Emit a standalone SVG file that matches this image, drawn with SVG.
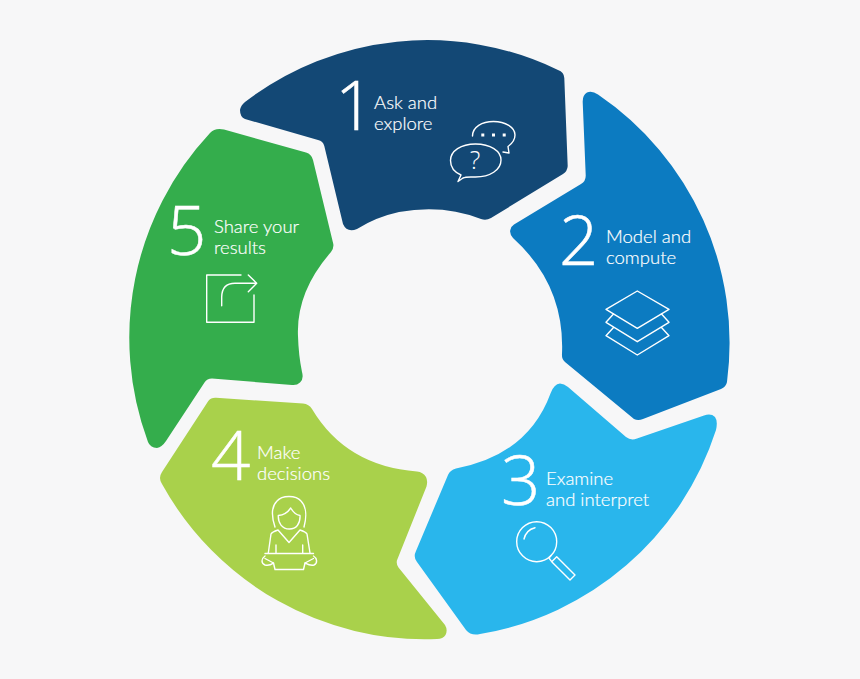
<svg xmlns="http://www.w3.org/2000/svg" width="860" height="679" viewBox="0 0 860 679">
<style>
.n{font-family:"Open Sans","Liberation Sans",sans-serif;font-weight:300;font-size:69px;fill:#fff;stroke:#fff;stroke-width:.5}
.t{font-family:"Lato","Open Sans","Liberation Sans",sans-serif;font-weight:300;font-size:18.5px;fill:#fff;stroke:#fff;stroke-width:.2}
.i{fill:none;stroke:#fff;stroke-width:1.4;stroke-linejoin:round;stroke-linecap:round}
</style>
<rect width="860" height="679" fill="#f7f7f8"/>
<g id="step-1">
<path fill="#134875" d="M245 102A300 300 0 0 1 558 70Q564 72 564.300 78L567.700 166Q567.500 171 563 174L491 218Q486 221 481 219Q443 204 399 212Q376 217 357 229Q347 233 343 224L324.300 146Q323 141 318 140L245 119Q240 117 240 110Q241 105 245 102Z"/>
<text class="n" x="335" y="130">1</text>
<text class="t" x="374" y="109">Ask and</text>
<text class="t" x="374" y="130">explore</text>
<path class="i" d="M472.500 136C472.500 127 482 121.500 493.500 121.500C505.500 121.500 515 127.500 515 135C515 140 511.500 144 508 146.500L509 153L503 152M472.500 136"/>
<path class="i" d="M458 181.500L461 175C454 172 450.500 166.500 450.500 160.500C450.500 151 461 144 475.500 144C490.500 144 501 151 501 160C501 170 490 177 475.500 177C470 177 466 176.500 463 178Z"/>
<g fill="#fff"><rect x="481.300" y="133.500" width="3" height="3"/><rect x="492" y="133.500" width="3" height="3"/><rect x="502.700" y="133.500" width="3" height="3"/></g>
<text x="475" y="169" text-anchor="middle" style="font-family:'Open Sans',sans-serif;font-weight:300;font-size:25px;fill:#fff">?</text>
</g>
<g id="step-2">
<path fill="#0c7bc1" d="M582.700 102Q582.500 95 587 92.500Q592 90.500 598 94.500A300 300 0 0 1 727 382Q726 387 721 389L643 419Q638 421 634 419L565 362Q561.500 359 562 354Q565 285 513 238Q509 233 510.500 229.500Q511 226.500 514 224.500L581 184Q586 181 585.700 175Z"/>
<text class="n" x="559" y="265">2</text>
<text class="t" x="606" y="243">Model and</text>
<text class="t" x="606" y="264">compute</text>
<path class="i" d="M637.300 291L669 309.300L637.300 328.300L606 309.300Z"/>
<path class="i" d="M613.500 314L606 322.300L637.300 341.700L669 322.300L661.500 314"/>
<path class="i" d="M613.500 327.500L606 335.700L637.300 355L669 335.700L661.500 327.500"/>
</g>
<g id="step-3">
<path fill="#29b6ec" d="M550.700 393Q554 384 560 383.500Q564 383.500 568 387L626 437Q631 441 637 438.500L704 415.500Q711 413 715 417Q718 421 716 430A300 300 0 0 1 480 634Q471 636 466 630L417 562Q413 557 416 551L448 475Q450 470 456 468.500Q528 455 550.700 393Z"/>
<text class="n" x="501" y="505">3</text>
<text class="t" x="546" y="485">Examine</text>
<text class="t" x="546" y="506">and interpret</text>
<circle class="i" cx="536.700" cy="541.700" r="20"/>
<path class="i" d="M524 539A15 15 0 0 1 535 527.700"/>
<path class="i" d="M556.700 556.700L551.700 561.700L570 580L575 575ZM551 555.500L549 558L551.700 561.700"/>
</g>
<g id="step-4">
<path fill="#a9d14b" d="M208.300 401Q211 397.500 216 397.800L303 403.500Q309 404 312 409Q346 466 417 471.500Q423 472 426 477Q428 481 426.500 486.500L397.500 559Q395.500 563 398.500 567.500L445 625Q448 630 445.500 635Q443 639 437 639A300 300 0 0 1 162 484Q158 478 162 472Z"/>
<text class="n" x="211" y="480">4</text>
<text class="t" x="257" y="459">Make</text>
<text class="t" x="257" y="480">decisions</text>
<path class="i" d="M275 527C271 515 272 506 277 501C282 495 296 495 301 501C306 506 307 516 304 527"/>
<path class="i" d="M278.300 515.500C284 515 288 512 290.700 508C293 512 296 515 300 515.500C300.500 524 296 529 289.500 529C282 529 278 523 278.300 515.500Z"/>
<path class="i" d="M268.300 553L271 534Q272 532 278 530L289 542.500L300 530Q306 532 307 534L310 553"/>
<path class="i" d="M276 545V553M302.700 545V553M265 553.500H313.500"/>
<path class="i" d="M265 556C261 559 261 563 265 565C270 566 272 564 273.500 563L275 569.500H303.500L305 563C307 564 310 566 314 565C318 563 317 558 313.500 556"/>
<path class="i" d="M265 558.500L273.500 563M313.500 558.500L305 563"/>
</g>
<g id="step-5">
<path fill="#34ad4c" d="M210 133Q215 127.500 224 129.500L306 152.500Q311.500 154 313 160L333.300 244Q334 248 331 252Q296 292 298 336Q298.500 355 302 372Q304 379 300 382.500Q297 385.500 292 385L212 378.500Q207 378.500 204.500 382.500L166 441Q162 447 157 448Q150 447.500 148 442A300 300 0 0 1 210 133Z"/>
<text class="n" x="167" y="255">5</text>
<text class="t" x="214" y="233">Share your</text>
<text class="t" x="214" y="254">results</text>
<path class="i" d="M241 275H206.700V322.300H254V295"/>
<path class="i" d="M221.700 305.700V297Q222 283.300 235 283.300H256.700M248.300 275L256.700 283.300L248.300 291.700"/>
</g>
</svg>
